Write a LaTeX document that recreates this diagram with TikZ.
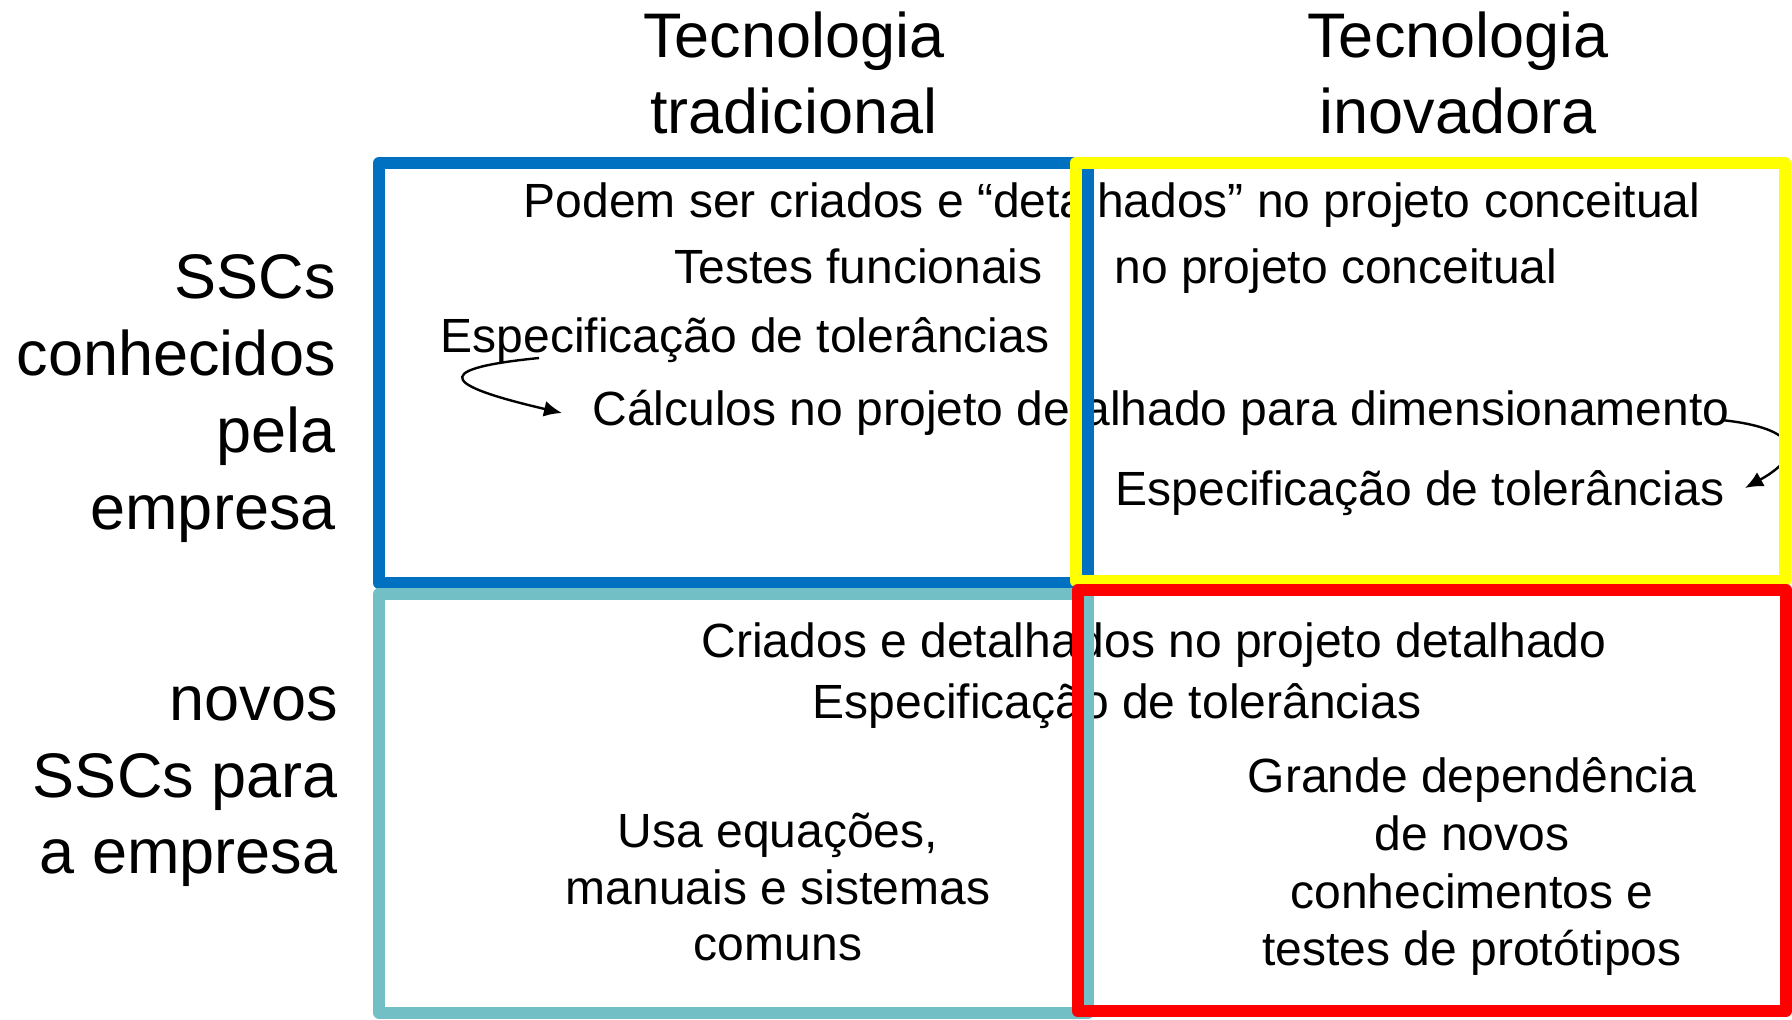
\documentclass[tikz,border=0pt]{standalone}
\usepackage{fontspec}
\setmainfont{Liberation Sans}
\usetikzlibrary{arrows.meta}
\definecolor{cblue}{HTML}{0070C0}
\definecolor{cyel}{HTML}{FFFF00}
\definecolor{cteal}{HTML}{72BFC5}
\definecolor{cred}{HTML}{FF0000}
\tikzset{
  hdr/.style={inner sep=0pt, anchor=base, font=\fontsize{31.5pt}{38pt}\selectfont},
  lbl/.style={inner sep=0pt, anchor=base east, font=\fontsize{31.5pt}{38pt}\selectfont},
  body/.style={inner sep=0pt, anchor=base, font=\fontsize{24pt}{28pt}\selectfont},
  quad/.style={line width=6pt, line join=round},
  conn/.style={line width=1.2pt, -{Latex[length=9pt,width=8pt]}}
}
\begin{document}
\begin{tikzpicture}[x=0.5pt,y=-0.5pt]
\useasboundingbox (0,0) rectangle (1792,1019);
% column headers
\node[hdr] (h1a) at (794,57) {Tecnologia};
\node[hdr] (h1b) at (794,133) {tradicional};
\node[hdr] (h2a) at (1458,57) {Tecnologia};
\node[hdr] (h2b) at (1458,133) {inovadora};
% row labels
\node[lbl] (r1a) at (336,298) {SSCs};
\node[lbl] (r1b) at (336,375) {conhecidos};
\node[lbl] (r1c) at (336,452) {pela};
\node[lbl] (r1d) at (336,529) {empresa};
\node[lbl] (r2a) at (338,720) {novos};
\node[lbl] (r2b) at (338,797) {SSCs para};
\node[lbl] (r2c) at (338,873) {a empresa};
% top row texts
\node[body] (podem) at (1112,217) {Podem ser criados e “detalhados” no projeto conceitual};
\node[body, anchor=base east] (testes) at (1043,283) {Testes funcionais};
\node[body, anchor=base west] (noproj) at (1114,283) {no projeto conceitual};
\node[body] (espL) at (745,352) {Especificação de tolerâncias};
\node[body] (calc) at (1161,425) {Cálculos no projeto detalhado para dimensionamento};
\node[body] (espR) at (1420,505) {Especificação de tolerâncias};
% bottom row texts
\node[body] (criados) at (1154,657) {Criados e detalhados no projeto detalhado};
\node[body] (espB) at (1117,718) {Especificação de tolerâncias};
\node[body] (usa1) at (778,847) {Usa equações,};
\node[body] (usa2) at (778,904) {manuais e sistemas};
\node[body] (usa3) at (778,960) {comuns};
\node[body] (gr1) at (1472,792) {Grande dependência};
\node[body] (gr2) at (1472,850) {de novos};
\node[body] (gr3) at (1472,908) {conhecimentos e};
\node[body] (gr4) at (1472,965) {testes de protótipos};
% connectors
\coordinate (a1s) at (539,358);
\coordinate (a1e) at (562,413);
\coordinate (a2s) at (1721,420);
\coordinate (a2e) at (1745,488);
\draw[conn] (a1s) .. controls (418,370) and (455,388) .. (a1e);
\draw[conn] (a2s) .. controls (1800,428) and (1805,455) .. (a2e);
% quadrant frames
\draw[quad, cblue] (379,163) rectangle (1088,583);
\draw[quad, cyel] (1075.5,163) rectangle (1785,581);
\draw[quad, cteal] (379,594) rectangle (1088,1012.5);
\draw[quad, cred] (1077.5,590) rectangle (1786,1011);
\end{tikzpicture}
\end{document}
